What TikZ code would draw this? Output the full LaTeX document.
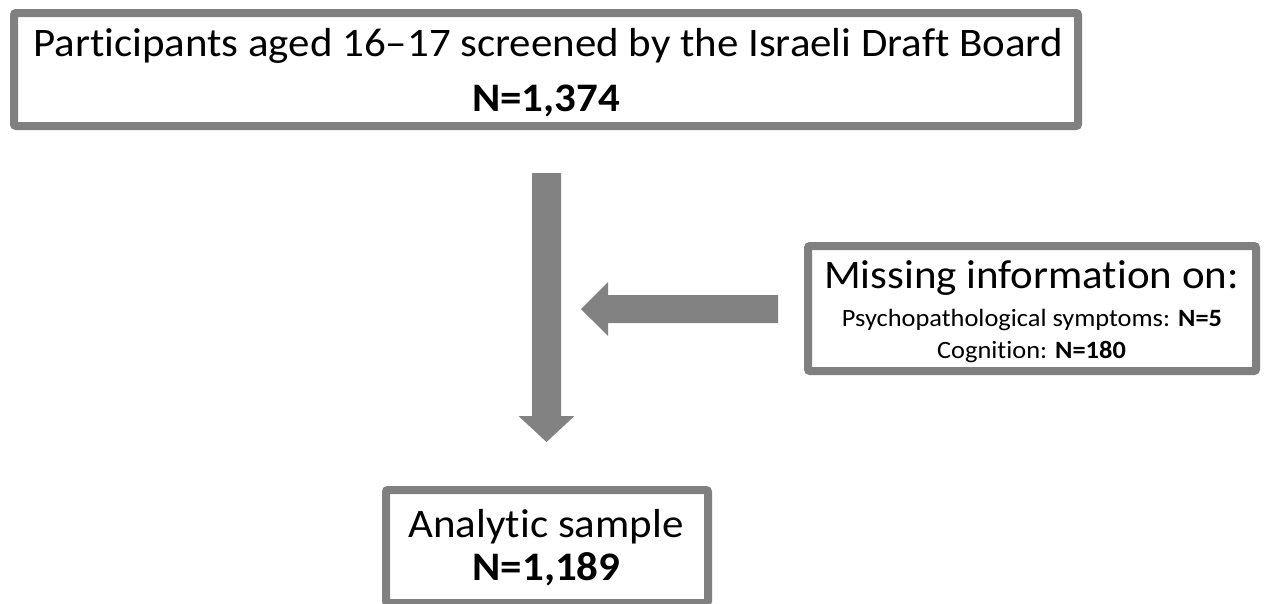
\documentclass[tikz,border=0pt]{standalone}
\usepackage{fontspec}
\setmainfont{Carlito}[Ligatures=NoCommon, FakeStretch=1.06]
\usetikzlibrary{calc}
\definecolor{boxgray}{RGB}{128,128,128}
\definecolor{arrowgray}{RGB}{130,130,130}
\tikzset{
  frame/.style={draw=boxgray, line width=8pt, rounded corners=2pt, fill=white,
    inner sep=0pt, outer sep=0pt},
  bigtext/.style={anchor=base, inner sep=0pt, font=\fontsize{40.5}{46}\selectfont},
  smalltext/.style={anchor=base, inner sep=0pt, font=\fontsize{24.9}{30}\selectfont},
  blockarrow/.style={fill=arrowgray, draw=none}
}
\begin{document}
\begin{tikzpicture}[x=1pt, y=-1pt]
\useasboundingbox (0,0) rectangle (1264,603);

% boxes
\node[frame, minimum width=1064pt, minimum height=113pt] (screened) at (546,69.5) {};
\node[frame, minimum width=448pt, minimum height=125pt] (missing) at (1032,308.5) {};
\node[frame, minimum width=322pt, minimum height=113pt] (analytic) at (547,546.5) {};

% texts
\node[bigtext] (screenedA) at (548,56.5) {Participants aged 16--17 screened by the Israeli Draft Board};
\node[bigtext] (screenedB) at (546,111) {\bfseries N=1,374};
\node[bigtext] (missingA) at (1031.5,288) {Missing information on:};
\node[smalltext] (missingB) at (1032,326.5) {Psychopathological symptoms: \textbf{N=5}};
\node[smalltext] (missingC) at (1031.5,358) {Cognition: \textbf{N=180}};
\node[bigtext] (analyticA) at (546,537) {Analytic sample};
\node[bigtext] (analyticB) at (546.5,580) {\bfseries N=1,189};

% connector end points
\coordinate (vfrom) at ($(screened.south)+(0.5,47)$);
\coordinate (vto) at ($(analytic.north)+(-0.5,-48)$);
\coordinate (hfrom) at ($(missing.west)+(-30,0.5)$);
\coordinate (hto) at (581,309);

% vertical block arrow
\fill[blockarrow]
  ($(vfrom)+(-14.5,0)$) -- ($(vfrom)+(14.5,0)$) --
  ($(vto)+(14.5,-26)$) -- ($(vto)+(28,-26)$) -- (vto) --
  ($(vto)+(-28,-26)$) -- ($(vto)+(-14.5,-26)$) -- cycle;

% horizontal block arrow
\fill[blockarrow]
  ($(hfrom)+(0,-14)$) -- ($(hfrom)+(0,14)$) --
  ($(hto)+(27,14)$) -- ($(hto)+(27,27)$) -- (hto) --
  ($(hto)+(27,-27)$) -- ($(hto)+(27,-14)$) -- cycle;
\end{tikzpicture}
\end{document}
